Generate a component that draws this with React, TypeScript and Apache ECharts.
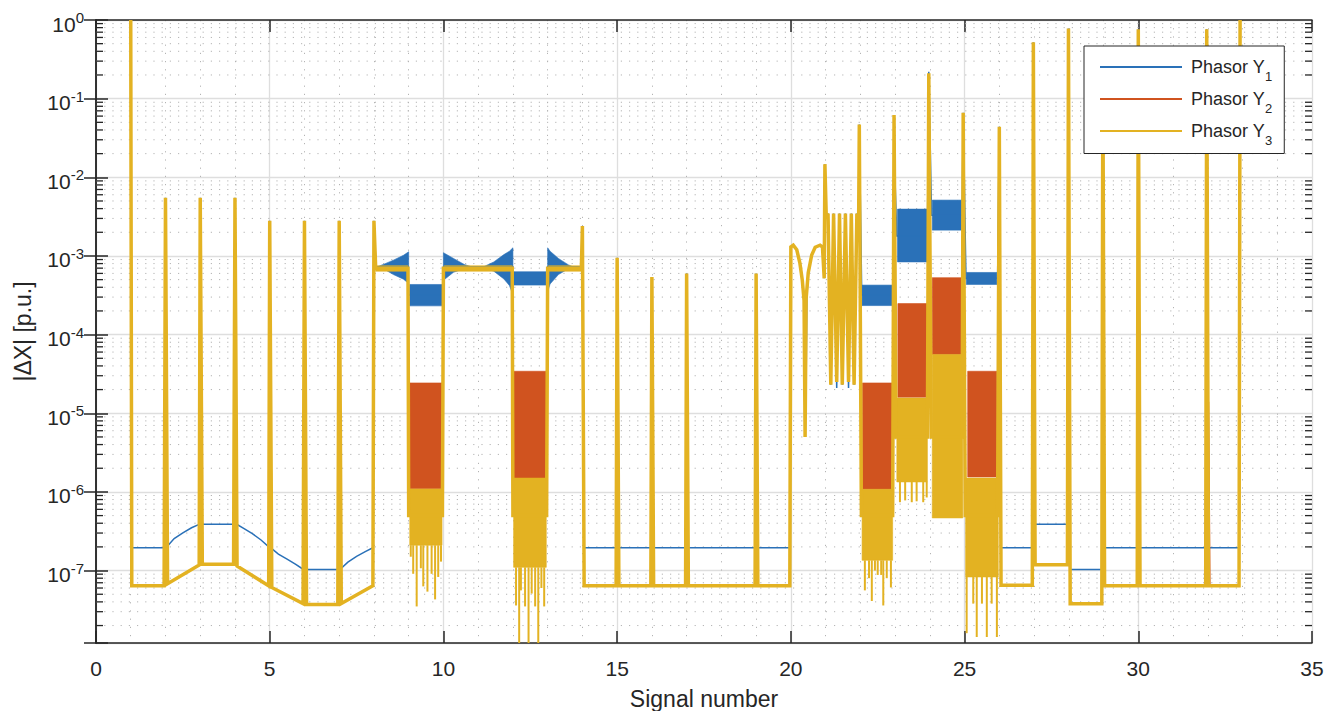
import React, { useEffect, useRef } from 'react';
import * as echarts from 'echarts';

const FONT = "'Liberation Sans', Arial, Helvetica, sans-serif";
const INK = '#262626';
const C1 = '#2a71b8';
const C2 = '#d0531f';
const C3 = '#e3b222';

const seriesNames = ['Phasor Y1', 'Phasor Y2', 'Phasor Y3'];
const xMin = 0;
const xMax = 35;
const xStep = 5;
const yMin = 1.2e-8;
const yMax = 1;
const yMinorDecades = [-8, -7, -6, -5, -4, -3, -2, -1];
const yMinorMultipliers = [2, 3, 4, 5, 6, 7, 8, 9];

// Phasor Y1 (blue) envelope line
const y1Line: number[][] = [
  [1.0, 1.0], [1.03, 1.95e-7], [1.96, 1.95e-7], [2.0, 5.5e-3],
  [2.06, 2.05e-7], [2.25, 2.55e-7], [2.5, 3.02e-7], [2.75, 3.5e-7], [2.97, 3.87e-7], [3.0, 5.5e-3],
  [3.06, 3.87e-7], [3.96, 3.87e-7], [4.0, 5.5e-3],
  [4.06, 3.85e-7], [4.25, 3.45e-7], [4.5, 2.95e-7], [4.75, 2.45e-7], [4.97, 2.0e-7], [5.0, 2.8e-3],
  [5.06, 1.9e-7], [5.25, 1.62e-7], [5.5, 1.4e-7], [5.75, 1.2e-7], [5.96, 1.04e-7], [6.0, 2.8e-3],
  [6.06, 1.03e-7], [6.96, 1.03e-7], [7.0, 2.8e-3],
  [7.06, 1.07e-7], [7.25, 1.28e-7], [7.5, 1.52e-7], [7.75, 1.74e-7], [7.97, 1.95e-7], [8.0, 2.8e-3],
  [8.06, 7.2e-4], [8.98, 7.2e-4], [9.0, 3.2e-4], [9.97, 3.2e-4], [10.0, 7.2e-4], [11.98, 7.2e-4],
  [12.0, 5.2e-4], [12.97, 5.2e-4], [13.0, 7.2e-4], [13.97, 7.2e-4], [14.0, 2.4e-3],
  [14.05, 1.95e-7], [14.97, 1.95e-7], [15.0, 9.5e-4], [15.05, 1.95e-7], [15.97, 1.95e-7], [16.0, 5.4e-4],
  [16.05, 1.95e-7], [16.97, 1.95e-7], [17.0, 6.0e-4], [17.05, 1.95e-7], [18.97, 1.95e-7], [19.0, 6.0e-4],
  [19.05, 1.95e-7], [19.97, 1.95e-7],
  [20.0, 1.3e-3], [20.07, 1.37e-3], [20.17, 1.2e-3], [20.26, 8.1e-4], [20.33, 4.9e-4], [20.39, 2.6e-4],
  [20.43, 8.5e-6], [20.46, 3.0e-4], [20.5, 6.1e-4], [20.6, 1.03e-3], [20.7, 1.29e-3], [20.84, 1.37e-3],
  [20.91, 1.3e-3], [20.96, 5.2e-4], [20.98, 1.47e-2],
  [21.02, 3.0e-3], [21.07, 3.47e-3], [21.15, 2.3e-5], [21.23, 3.47e-3], [21.32, 2.1e-5], [21.4, 3.47e-3],
  [21.48, 2.3e-5], [21.57, 3.47e-3], [21.66, 2.1e-5], [21.74, 3.47e-3], [21.82, 2.3e-5], [21.9, 3.47e-3],
  [21.95, 2.5e-3], [21.97, 4.7e-2],
  [22.04, 3.2e-4], [22.93, 3.2e-4], [22.97, 2.3e-2], [23.05, 1.8e-3], [23.93, 1.8e-3], [23.97, 0.22],
  [24.05, 3.3e-3], [24.93, 3.3e-3], [24.96, 6.6e-2], [25.04, 5.2e-4], [25.95, 5.2e-4], [26.0, 4.4e-2],
  [26.05, 1.95e-7], [26.95, 1.95e-7], [26.98, 0.52], [27.03, 3.87e-7], [27.96, 3.87e-7], [27.99, 0.78],
  [28.04, 1.03e-7], [28.95, 1.03e-7], [28.98, 0.3], [29.03, 1.95e-7], [29.97, 1.95e-7], [30.0, 0.76],
  [30.05, 1.95e-7], [31.94, 1.95e-7], [31.97, 0.76], [32.02, 1.95e-7], [32.9, 1.95e-7], [32.93, 1.0],
];

// Phasor Y2 (red) visible strokes outside the bands
const y2Line: number[][] = [
  [31.99, 6.5e-8], [32.02, 1.4e-5], [32.06, 6.5e-8],
];

// Phasor Y3 (yellow) envelope line
const y3Line: number[][] = [
  [1.0, 1.0], [1.03, 6.4e-8], [1.96, 6.4e-8], [2.0, 5.5e-3],
  [2.06, 6.8e-8], [2.97, 1.18e-7], [3.0, 5.5e-3], [3.06, 1.2e-7], [3.96, 1.2e-7], [4.0, 5.5e-3],
  [4.06, 1.14e-7], [4.97, 6.4e-8], [5.0, 2.8e-3], [5.06, 6.1e-8], [5.96, 3.8e-8], [6.0, 2.8e-3],
  [6.06, 3.7e-8], [6.96, 3.7e-8], [7.0, 2.8e-3], [7.06, 3.8e-8], [7.97, 6.4e-8], [8.0, 2.8e-3],
  [8.05, 7.0e-4], [8.98, 7.0e-4], [9.0, 5e-7], [9.97, 5e-7], [10.0, 7.0e-4], [11.98, 7.0e-4],
  [12.0, 5e-7], [12.97, 5e-7], [13.0, 7.0e-4], [13.97, 7.0e-4], [14.0, 2.4e-3],
  [14.05, 6.4e-8], [14.97, 6.4e-8], [15.0, 9.5e-4], [15.05, 6.4e-8], [15.97, 6.4e-8], [16.0, 5.4e-4],
  [16.05, 6.4e-8], [16.97, 6.4e-8], [17.0, 6.0e-4], [17.05, 6.4e-8], [18.97, 6.4e-8], [19.0, 6.0e-4],
  [19.05, 6.4e-8], [19.97, 6.4e-8],
  [20.0, 1.3e-3], [20.07, 1.37e-3], [20.17, 1.2e-3], [20.26, 8.1e-4], [20.33, 4.9e-4], [20.38, 2.7e-4],
  [20.41, 5.0e-6], [20.44, 2.9e-4], [20.5, 6.1e-4], [20.6, 1.03e-3], [20.7, 1.29e-3], [20.84, 1.37e-3],
  [20.91, 1.3e-3], [20.96, 5.2e-4], [20.98, 1.47e-2],
  [21.02, 3.0e-3], [21.07, 3.47e-3], [21.15, 2.3e-5], [21.23, 3.47e-3], [21.32, 2.5e-5], [21.4, 3.47e-3],
  [21.48, 2.3e-5], [21.57, 3.47e-3], [21.66, 2.5e-5], [21.74, 3.47e-3], [21.82, 2.3e-5], [21.9, 3.47e-3],
  [21.95, 2.5e-3], [21.97, 4.7e-2],
  [22.03, 5e-7], [22.93, 5e-7], [22.97, 6.2e-2], [23.03, 5e-6], [23.93, 5e-6], [23.97, 0.21],
  [24.04, 5e-6], [24.93, 5e-6], [24.96, 6.6e-2], [25.02, 5e-7], [25.95, 5e-7], [26.0, 4.4e-2],
  [26.05, 6.5e-8], [26.95, 6.5e-8], [26.98, 0.52], [27.03, 1.19e-7], [27.96, 1.19e-7], [27.99, 0.78],
  [28.04, 3.8e-8], [28.95, 3.8e-8], [28.98, 0.3], [29.03, 6.4e-8], [29.97, 6.4e-8], [30.0, 0.76],
  [30.05, 6.4e-8], [31.94, 6.4e-8], [31.97, 0.76], [32.02, 6.4e-8], [32.9, 6.4e-8], [32.93, 1.0],
];

// Dense oscillation envelopes: each band is a list of [x, low, high]
const y1Bands: number[][][] = [
  [[8.1, 7.1e-4, 7.3e-4], [8.27, 6.9e-4, 7.8e-4], [8.56, 5.8e-4, 8.85e-4], [8.85, 5.07e-4, 1.02e-3], [9.0, 4.47e-4, 1.13e-3]],
  [[9.03, 2.32e-4, 4.34e-4], [9.97, 2.32e-4, 4.34e-4]],
  [[10.0, 4.9e-4, 1.1e-3], [10.29, 6.2e-4, 9.3e-4], [10.6, 6.9e-4, 7.8e-4], [10.8, 7.1e-4, 7.3e-4]],
  [[11.16, 7.1e-4, 7.3e-4], [11.45, 6.4e-4, 8.4e-4], [11.74, 5.1e-4, 1.04e-3], [11.9, 4.2e-4, 1.15e-3], [12.0, 3.2e-4, 1.27e-3]],
  [[12.03, 4.26e-4, 6.3e-4], [12.97, 4.26e-4, 6.3e-4]],
  [[13.0, 3.5e-4, 1.27e-3], [13.07, 4.4e-4, 1.15e-3], [13.31, 5.8e-4, 9.3e-4], [13.6, 6.9e-4, 7.7e-4], [13.72, 7.1e-4, 7.3e-4]],
  [[22.05, 2.34e-4, 4.26e-4], [22.92, 2.34e-4, 4.26e-4]],
  [[23.07, 8.4e-4, 3.94e-3], [23.92, 8.4e-4, 3.94e-3]],
  [[24.07, 2.13e-3, 5.13e-3], [24.92, 2.13e-3, 5.13e-3]],
  [[25.05, 4.34e-4, 6.17e-4], [25.93, 4.34e-4, 6.17e-4]],
];

const y2Bands: number[][][] = [
  [[9.03, 1.1e-6, 2.43e-5], [9.96, 1.1e-6, 2.43e-5]],
  [[12.02, 1.5e-6, 3.42e-5], [12.96, 1.5e-6, 3.42e-5]],
  [[22.06, 1.08e-6, 2.43e-5], [22.92, 1.08e-6, 2.43e-5]],
  [[23.08, 1.6e-5, 2.48e-4], [23.92, 1.6e-5, 2.48e-4]],
  [[24.07, 5.6e-5, 5.3e-4], [24.92, 5.6e-5, 5.3e-4]],
  [[25.09, 1.55e-6, 3.42e-5], [25.93, 1.55e-6, 3.42e-5]],
];

const y3Bands: number[][][] = [
  [[8.05, 6.4e-4, 7.5e-4], [8.98, 6.4e-4, 7.5e-4]],
  [[9.03, 2.1e-7, 1.09e-6], [9.96, 2.1e-7, 1.09e-6]],
  [[10.02, 6.4e-4, 7.5e-4], [11.98, 6.4e-4, 7.5e-4]],
  [[12.02, 1.1e-7, 1.5e-6], [12.96, 1.1e-7, 1.5e-6]],
  [[13.02, 6.4e-4, 7.5e-4], [13.97, 6.4e-4, 7.5e-4]],
  [[22.05, 1.35e-7, 1.08e-6], [22.93, 1.35e-7, 1.08e-6]],
  [[23.05, 1.34e-6, 1.56e-5], [23.93, 1.34e-6, 1.56e-5]],
  [[24.07, 4.67e-7, 5.6e-5], [24.95, 4.67e-7, 5.6e-5]],
  [[25.03, 8.3e-8, 1.5e-6], [25.97, 8.3e-8, 1.5e-6]],
];

// Downward needles under the yellow bands: [x, low, high]
const y3Needles: number[][] = [
  [9.06, 1.5e-7, 2.1e-7], [9.13, 9.1e-8, 2.1e-7], [9.23, 3.5e-8, 2.1e-7], [9.35, 1.07e-7, 2.1e-7],
  [9.42, 6.3e-8, 2.1e-7], [9.54, 5.4e-8, 2.1e-7], [9.66, 9.1e-8, 2.1e-7], [9.76, 4.3e-8, 2.1e-7],
  [9.85, 8.3e-8, 2.1e-7], [9.93, 1.3e-7, 2.1e-7],
  [12.09, 3.6e-8, 1.1e-7], [12.18, 1.2e-8, 1.1e-7], [12.23, 5.6e-8, 1.1e-7], [12.35, 3.5e-8, 1.1e-7],
  [12.45, 1.2e-8, 1.1e-7], [12.54, 5.1e-8, 1.1e-7], [12.64, 3.5e-8, 1.1e-7], [12.73, 1.2e-8, 1.1e-7],
  [12.82, 6.0e-8, 1.1e-7], [12.9, 3.5e-8, 1.1e-7],
  [22.13, 5.6e-8, 1.35e-7], [22.25, 8.0e-8, 1.35e-7], [22.33, 4.1e-8, 1.35e-7], [22.42, 1.0e-7, 1.35e-7],
  [22.5, 8.8e-8, 1.35e-7], [22.6, 8.8e-8, 1.35e-7], [22.66, 3.6e-8, 1.35e-7], [22.76, 8.0e-8, 1.35e-7],
  [22.88, 6.1e-8, 1.35e-7],
  [23.14, 7.4e-7, 1.34e-6], [23.29, 7.8e-7, 1.34e-6], [23.48, 7.4e-7, 1.34e-6], [23.62, 7.6e-7, 1.34e-6],
  [23.81, 7.4e-7, 1.34e-6], [23.91, 8.5e-7, 1.34e-6],
  [25.06, 1.6e-8, 8.3e-8], [25.25, 3.8e-8, 8.3e-8], [25.35, 1.43e-8, 8.3e-8], [25.5, 3.8e-8, 8.3e-8],
  [25.64, 1.43e-8, 8.3e-8], [25.78, 3.8e-8, 8.3e-8], [25.93, 1.43e-8, 8.3e-8],
];

const yMinorValues: number[] = [];
yMinorDecades.forEach((d) => {
  yMinorMultipliers.forEach((k) => {
    const v = k * Math.pow(10, d);
    if (v > yMin && v < yMax) yMinorValues.push(v);
  });
});

function bandSeries(name: string, bands: number[][][], color: string) {
  return {
    name,
    type: 'custom',
    clip: true,
    silent: true,
    encode: { x: 0, y: 1 },
    data: bands.map((b, i) => [b[0][0], b[0][2], i]),
    renderItem: (_params: any, api: any) => {
      const band = bands[api.value(2)];
      const top = band.map((p) => api.coord([p[0], p[2]]));
      const bot = band.slice().reverse().map((p) => api.coord([p[0], p[1]]));
      return {
        type: 'polygon',
        shape: { points: top.concat(bot) },
        style: { fill: color, stroke: color, lineWidth: 0.6 },
      };
    },
  };
}

function needleSeries(name: string, needles: number[][], color: string) {
  return {
    name,
    type: 'custom',
    clip: true,
    silent: true,
    encode: { x: 0, y: 1 },
    data: needles.map((n) => [n[0], n[1], n[2]]),
    renderItem: (_params: any, api: any) => {
      const a = api.coord([api.value(0), api.value(2)]);
      const b = api.coord([api.value(0), api.value(1)]);
      return {
        type: 'line',
        shape: { x1: a[0], y1: a[1], x2: b[0], y2: b[1] },
        style: { stroke: color, lineWidth: 2 },
      };
    },
  };
}

function lineSeries(name: string, data: number[][], color: string, width: number) {
  return {
    name,
    type: 'line',
    data,
    showSymbol: false,
    symbol: 'none',
    color,
    lineStyle: { color, width, join: 'miter' },
    silent: true,
  };
}

const logLabel = (v: number) => {
  const l = Math.log10(v);
  const e = Math.round(l);
  if (Math.abs(l - e) > 1e-6) return '';
  return `{b|10}{s|${e}}`;
};

export default function App() {
  const ref = useRef<HTMLDivElement>(null);
  useEffect(() => {
    if (!ref.current) return;
    const chart = echarts.init(ref.current, null, { renderer: 'svg' });
    const option: any = {
      animation: false,
      backgroundColor: '#ffffff',
      textStyle: { fontFamily: FONT },
      grid: { left: 96, right: 25, top: 20, bottom: 68, containLabel: false, outerBoundsMode: 'none' },
      xAxis: [
        {
          type: 'value', min: xMin, max: xMax, interval: xStep,
          position: 'bottom',
          name: 'Signal number', nameLocation: 'middle', nameGap: 44,
          nameTextStyle: { fontSize: 23, color: INK, fontFamily: FONT },
          axisLine: { onZero: false, lineStyle: { color: INK, width: 1.5 } },
          axisTick: { inside: true, length: 12, lineStyle: { color: INK, width: 1.5 } },
          axisLabel: { fontSize: 21, color: INK, margin: 15, fontFamily: FONT },
          splitLine: { show: true, lineStyle: { color: '#dedede', width: 1.3 } },
          minorTick: { show: false, splitNumber: 5 },
          minorSplitLine: { show: true, lineStyle: { color: '#b4b4b4', width: 1, type: [1.2, 7] } },
        },
        {
          type: 'value', min: xMin, max: xMax, interval: xStep,
          position: 'top',
          axisLine: { onZero: false, lineStyle: { color: INK, width: 1.5 } },
          axisTick: { inside: true, length: 12, lineStyle: { color: INK, width: 1.5 } },
          axisLabel: { show: false },
          splitLine: { show: false },
        },
      ],
      yAxis: [
        {
          type: 'log', logBase: 10, min: yMin, max: yMax,
          position: 'left',
          name: '|ΔX| [p.u.]', nameLocation: 'middle', nameGap: 62, nameRotate: 90,
          nameTextStyle: { fontSize: 23, color: INK, fontFamily: FONT },
          axisLine: { lineStyle: { color: INK, width: 1.5 } },
          axisTick: { inside: true, length: 12, lineStyle: { color: INK, width: 1.5 } },
          axisLabel: {
            formatter: logLabel, margin: 12, color: INK, padding: [0, 0, 5, 0],
            rich: {
              b: { fontSize: 21, lineHeight: 20, verticalAlign: 'bottom', color: INK, fontFamily: FONT },
              s: { fontSize: 15, lineHeight: 34, color: INK, fontFamily: FONT },
            },
          },
          splitLine: { show: true, lineStyle: { color: '#dedede', width: 1.3 } },
        },
        {
          type: 'log', logBase: 10, min: yMin, max: yMax,
          position: 'right',
          axisLine: { lineStyle: { color: INK, width: 1.5 } },
          axisTick: { inside: true, length: 12, lineStyle: { color: INK, width: 1.5 } },
          axisLabel: { show: false },
          splitLine: { show: false },
        },
      ],
      legend: {
        data: seriesNames,
        orient: 'vertical',
        left: 1084,
        top: 46,
        padding: [9, 12, 7, 16],
        itemWidth: 82,
        itemHeight: 2,
        itemGap: 4.5,
        icon: 'rect',
        backgroundColor: '#ffffff',
        borderColor: INK,
        borderWidth: 1,
        borderRadius: 0,
        selectedMode: false,
        formatter: (n: string) => `{a|Phasor Y}{s|${n.slice(-1)}}`,
        textStyle: {
          color: INK,
          fontFamily: FONT,
          rich: {
            a: { fontSize: 18, lineHeight: 24, padding: [0, 0, 0, 4], color: INK, fontFamily: FONT },
            s: { fontSize: 13, lineHeight: 14, padding: [14.5, 0, 0, 0], verticalAlign: 'top', color: INK, fontFamily: FONT },
          },
        },
      },
      series: [
        {
          name: 'minor-grid',
          type: 'custom',
          silent: true,
          clip: false,
          encode: { x: 0, y: 1 },
          data: [[1, 1e-3]],
          renderItem: (params: any, api: any) => {
            const cs = params.coordSys;
            const children: any[] = [];
            yMinorValues.forEach((v) => {
              const py = api.coord([1, v])[1];
              children.push({
                type: 'line',
                shape: { x1: cs.x, y1: py, x2: cs.x + cs.width, y2: py },
                style: { stroke: '#b4b4b4', lineWidth: 1, lineDash: [1.2, 7] },
              });
              children.push({
                type: 'line',
                shape: { x1: cs.x, y1: py, x2: cs.x + 7, y2: py },
                style: { stroke: INK, lineWidth: 1.3 },
              });
              children.push({
                type: 'line',
                shape: { x1: cs.x + cs.width - 7, y1: py, x2: cs.x + cs.width, y2: py },
                style: { stroke: INK, lineWidth: 1.3 },
              });
            });
            return { type: 'group', children };
          },
        },
        lineSeries(seriesNames[0], y1Line, C1, 1.5),
        bandSeries('Y1 band', y1Bands, C1),
        lineSeries(seriesNames[1], y2Line, C2, 1.5),
        bandSeries('Y2 band', y2Bands, C2),
        lineSeries(seriesNames[2], y3Line, C3, 3.5),
        bandSeries('Y3 band', y3Bands, C3),
        needleSeries('Y3 needles', y3Needles, C3),
      ],
    };
    chart.setOption(option);
    return () => chart.dispose();
  }, []);
  return (
    <div
      ref={ref}
      style={{ position: 'fixed', left: 0, top: 0, width: 1337, height: 711, background: '#fff' }}
    />
  );
}
